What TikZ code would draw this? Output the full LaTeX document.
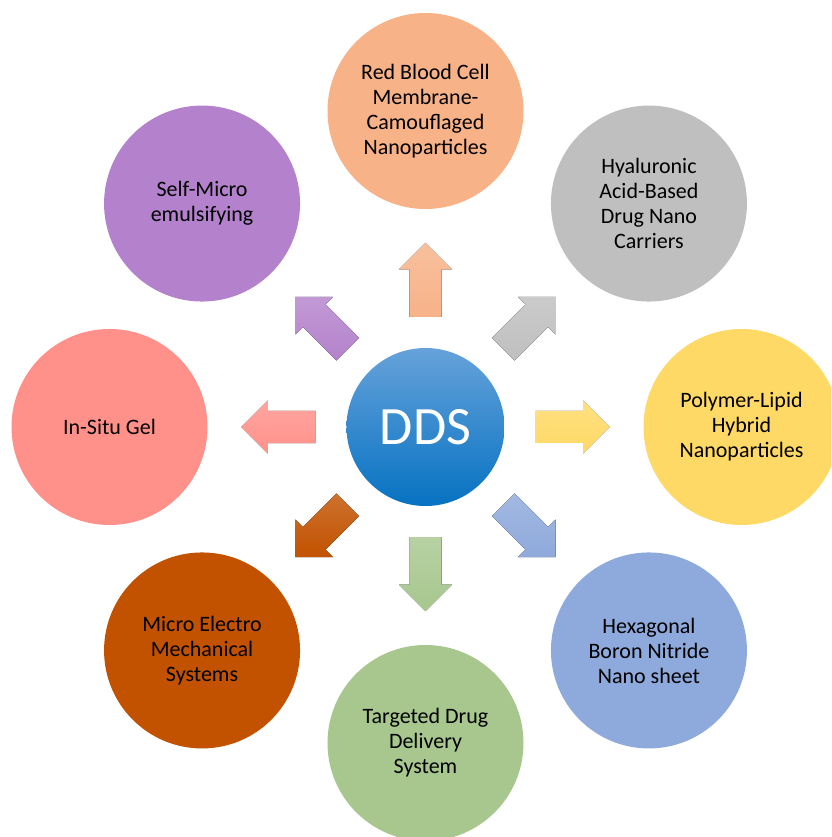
\documentclass[tikz,border=0pt]{standalone}
\usepackage{fontspec}
\setmainfont{Carlito}
\usetikzlibrary{positioning, calc}

\definecolor{hubtop}{HTML}{66A2DA}
\definecolor{hubbot}{HTML}{0672C2}
\definecolor{rbcorange}{HTML}{F7B288}
\definecolor{hyalgray}{HTML}{BFBFBF}
\definecolor{polyyellow}{HTML}{FFD966}
\definecolor{hbnblue}{HTML}{8EA9DB}
\definecolor{tddsgreen}{HTML}{A7C78E}
\definecolor{memsrust}{HTML}{C25200}
\definecolor{gelsalmon}{HTML}{FF918A}
\definecolor{smepurple}{HTML}{B482CC}

\begin{document}
\begin{tikzpicture}[
    x=1pt, y=1pt,
    hub/.style={circle, minimum size=158pt, inner sep=0pt,
                top color=hubtop, bottom color=hubbot, text=white,
                font=\fontsize{54}{54}\selectfont},
    topic/.style={circle, minimum size=196pt, inner sep=0pt, align=center,
                  font=\fontsize{22}{25}\selectfont, text=black}
  ]
  \useasboundingbox (-425.5,-410) rectangle (405.5,427);
  \clip (-425.5,-410) rectangle (405.5,427);

  \node[hub] (dds) at (0,0) {DDS};

  \node[topic, fill=rbcorange] (rbc) at (90:316)
    {Red Blood Cell\\Membrane-\\Camouflaged\\Nanoparticles};
  \node[topic, fill=hyalgray] (hyal) at (45:316)
    {Hyaluronic\\Acid-Based\\Drug Nano\\Carriers};
  \node[topic, fill=polyyellow] (polylip) at (0:316)
    {Polymer-Lipid\\Hybrid\\Nanoparticles};
  \node[topic, fill=hbnblue] (hbn) at (-45:316)
    {Hexagonal\\Boron Nitride\\Nano sheet};
  \node[topic, fill=tddsgreen] (tdds) at (-90:316)
    {Targeted Drug\\Delivery\\System};
  \node[topic, fill=memsrust] (mems) at (-135:316)
    {Micro Electro\\Mechanical\\Systems};
  \node[topic, fill=gelsalmon] (insitu) at (180:316) {In-Situ Gel};
  \node[topic, fill=smepurple] (smedds) at (135:316)
    {Self-Micro\\emulsifying};

  % block arrows pointing out of the hub
  \foreach \a/\c in {90/rbcorange, 45/hyalgray, 0/polyyellow, -45/hbnblue,
                     -90/tddsgreen, -135/memsrust, 180/gelsalmon, 135/smepurple}
    \fill[top color=\c!82!white, bottom color=\c]
      ($(dds.center)+(\a:110)+(\a-90:16)$) -- ++(\a:47.5) -- ++(\a-90:10.5)
      -- ++(\a+45:37.48) -- ++(\a+135:37.48) -- ++(\a-90:10.5)
      -- ++(\a+180:47.5) -- cycle;
\end{tikzpicture}
\end{document}
